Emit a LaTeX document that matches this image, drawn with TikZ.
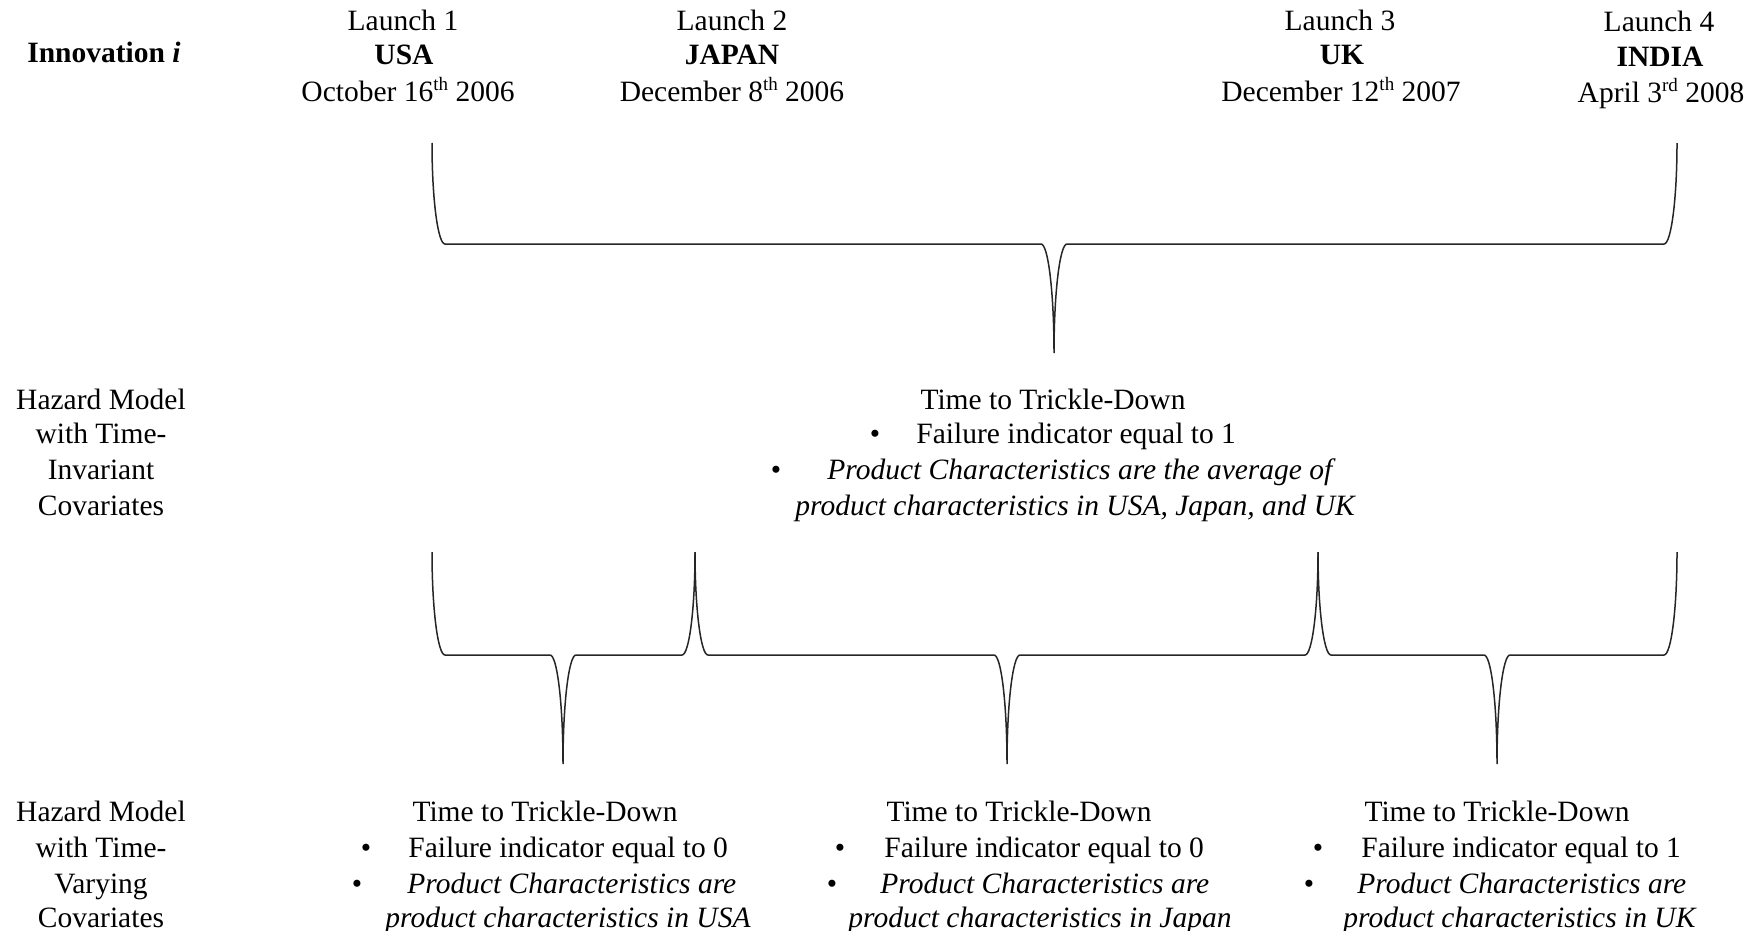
\documentclass[tikz,border=0pt]{standalone}
\usepackage{fontspec}
\setmainfont{Liberation Serif}
\newcommand\mysup[1]{\raisebox{0.38em}{\fontsize{9.5}{10}\selectfont #1}}
\begin{document}
\begin{tikzpicture}[x=0.5pt,y=-0.5pt,
  txt/.style={inner sep=0pt, yshift=-1.6pt, text height=10.5pt, text depth=3.2pt, font=\fontsize{14.75}{17.5}\selectfont},
  bold/.style={txt, font=\fontsize{14.75}{17.5}\selectfont\bfseries},
  brace/.style={line width=0.75pt, black!85}]
\useasboundingbox (0,0) rectangle (1756,931);
\def\kk{0.5523}
\newcommand\mybrace[6]{% x1,x2,mid,top,h,tip
  \draw[brace] (#1,#4) .. controls (#1,{#4+\kk*(#5-#4)}) and ({#1+13-\kk*13},#5) .. ({#1+13},#5)
    -- ({#3-13},#5) .. controls ({#3-13+\kk*13},#5) and (#3,{#6-\kk*(#6-#5)}) .. (#3,#6)
    .. controls (#3,{#6-\kk*(#6-#5)}) and ({#3+13-\kk*13},#5) .. ({#3+13},#5)
    -- ({#2-13},#5) .. controls ({#2-13+\kk*13},#5) and (#2,{#4+\kk*(#5-#4)}) .. (#2,#4);}
% header
\node[bold] (innov) at (104,52) {Innovation \textit{i}};
\node[txt] (l1a) at (403,20) {Launch 1};
\node[bold] (l1b) at (404,54) {USA};
\node[txt] (l1c) at (408,91) {October 16\mysup{th} 2006};
\node[txt] (l2a) at (732,20) {Launch 2};
\node[bold] (l2b) at (732,54) {JAPAN};
\node[txt] (l2c) at (732,91) {December 8\mysup{th} 2006};
\node[txt] (l3a) at (1340,20) {Launch 3};
\node[bold] (l3b) at (1342,54) {UK};
\node[txt] (l3c) at (1341,91) {December 12\mysup{th} 2007};
\node[txt] (l4a) at (1659,21) {Launch 4};
\node[bold] (l4b) at (1660,56) {INDIA};
\node[txt] (l4c) at (1661,92) {April 3\mysup{rd} 2008};
% top brace
\mybrace{432}{1677}{1054}{143}{244}{353}
% invariant row
\node[txt] (inv1) at (101,399) {Hazard Model};
\node[txt] (inv2) at (101,433) {with Time-};
\node[txt] (inv3) at (101,469) {Invariant};
\node[txt] (inv4) at (101,505) {Covariates};
\node[txt] (m1) at (1053,399) {Time to Trickle-Down};
\node[txt] (mb1) at (875,433) {\textbullet};
\node[txt,anchor=west] (m2) at (916,433) {Failure indicator equal to 1};
\node[txt] (mb2) at (776,469) {\textbullet};
\node[txt,anchor=west] (m3) at (827,469) {\textit{Product Characteristics are the average of}};
\node[txt,anchor=west] (m4) at (795,505) {\textit{product characteristics in USA, Japan, and UK}};
% lower braces
\mybrace{432}{695}{563}{552}{655}{764}
\mybrace{695}{1318}{1007}{552}{655}{764}
\mybrace{1318}{1677}{1497}{552}{655}{764}
% varying row
\node[txt] (var1) at (101,811) {Hazard Model};
\node[txt] (var2) at (101,847) {with Time-};
\node[txt] (var3) at (101,883) {Varying};
\node[txt] (var4) at (101,917) {Covariates};
% block 1
\node[txt] (a1) at (545,811) {Time to Trickle-Down};
\node[txt] (ab1) at (366,847) {\textbullet};
\node[txt,anchor=west] (a2) at (408,847) {Failure indicator equal to 0};
\node[txt] (ab2) at (357,883) {\textbullet};
\node[txt,anchor=west] (a3) at (407,883) {\textit{Product Characteristics are}};
\node[txt,anchor=west] (a4) at (385,917) {\textit{product characteristics in USA}};
% block 2
\node[txt] (b1) at (1019,811) {Time to Trickle-Down};
\node[txt] (bb1) at (840,847) {\textbullet};
\node[txt,anchor=west] (b2) at (884,847) {Failure indicator equal to 0};
\node[txt] (bb2) at (832,883) {\textbullet};
\node[txt,anchor=west] (b3) at (880,883) {\textit{Product Characteristics are}};
\node[txt,anchor=west] (b4) at (848,917) {\textit{product characteristics in Japan}};
% block 3
\node[txt] (c1) at (1497,811) {Time to Trickle-Down};
\node[txt] (cb1) at (1318,847) {\textbullet};
\node[txt,anchor=west] (c2) at (1361,847) {Failure indicator equal to 1};
\node[txt] (cb2) at (1309,883) {\textbullet};
\node[txt,anchor=west] (c3) at (1357,883) {\textit{Product Characteristics are}};
\node[txt,anchor=west] (c4) at (1343,917) {\textit{product characteristics in UK}};
\end{tikzpicture}
\end{document}
